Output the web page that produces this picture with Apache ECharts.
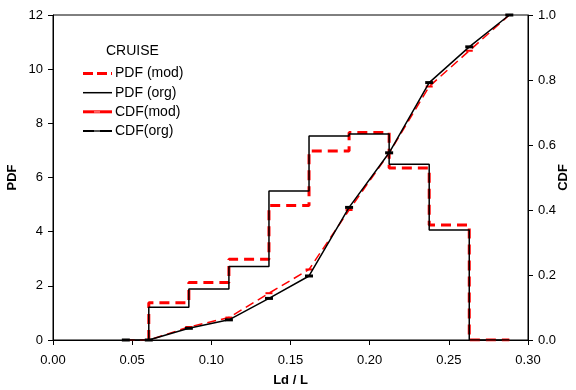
<!DOCTYPE html>
<html><head><meta charset="utf-8">
<script src="https://cdn.jsdelivr.net/npm/echarts@6/dist/echarts.min.js"></script>
<style>html,body{margin:0;padding:0;background:#fff}#c{width:576px;height:390px}</style>
</head><body><div id="c"></div>
<script>
var binEdges = [0.0605, 0.0858, 0.1111, 0.1364, 0.1617, 0.1870, 0.2123, 0.2376, 0.2629, 0.2882];
var pdfMod = [1.38, 2.12, 2.98, 4.97, 6.98, 7.66, 6.35, 4.25, 0];
var pdfOrg = [1.21, 1.88, 2.71, 5.50, 7.53, 7.61, 6.49, 4.06, 0];
var cdfX   = [0.046, 0.0605, 0.0858, 0.1111, 0.1364, 0.1617, 0.1870, 0.2123, 0.2376, 0.2629, 0.2882];
var cdfMod = [0, 0, 0.040, 0.069, 0.144, 0.217, 0.400, 0.575, 0.780, 0.890, 1.0];
var cdfOrg = [0, 0, 0.036, 0.062, 0.128, 0.197, 0.408, 0.576, 0.792, 0.902, 1.0];
var seriesNames = ['PDF (mod)', 'PDF (org)', 'CDF(mod)', 'CDF(org)'];
var legendTitle = 'CRUISE';

function stepData(vals){
  var d = [[binEdges[0], 0]];
  for (var i = 0; i < vals.length; i++) d.push([binEdges[i], vals[i]]);
  d.push([binEdges[binEdges.length-1], vals[vals.length-1]]);
  return d;
}
function pairs(xs, ys){ return xs.map(function(x,i){return [x, ys[i]];}); }

var font = 'Liberation Sans, Arial, sans-serif';

// legend drawn as graphic (lines + real text)
var legStyles = [
  {stroke: '#ff0000', lineWidth: 3, lineDash: [10, 4], marker: false},
  {stroke: '#000000', lineWidth: 1.5, lineDash: null, marker: false},
  {stroke: '#ff0000', lineWidth: 3, lineDash: null, marker: true},
  {stroke: '#000000', lineWidth: 2, lineDash: null, marker: true}
];
var legRowY = [73.5, 92.7, 111.8, 131];
var legendGraphics = [{type: 'text', x: 106, y: 51, style: {text: legendTitle, font: '14px ' + font, fill: '#000', textVerticalAlign: 'middle'}}];
seriesNames.forEach(function(n, i){
  var s = legStyles[i];
  legendGraphics.push({type: 'line', shape: {x1: 83, y1: legRowY[i], x2: 112, y2: legRowY[i]},
    style: {stroke: s.stroke, lineWidth: s.lineWidth, lineDash: s.lineDash}});
  if (s.marker) legendGraphics.push({type: 'rect', shape: {x: 94, y: legRowY[i] - 1, width: 6, height: 2},
    style: {fill: i === 3 ? '#555' : '#ff6666'}});
  legendGraphics.push({type: 'text', x: 115, y: legRowY[i], style: {text: n, font: '14px ' + font, fill: '#000', textVerticalAlign: 'middle'}});
});

var chart = echarts.init(document.getElementById('c'));
chart.setOption({
  animation: false,
  textStyle: {fontFamily: font},
  graphic: legendGraphics,
  grid: {left: 53, right: 48, top: 15, bottom: 50, show: true, borderColor: '#000', borderWidth: 1, outerBoundsMode: 'none', containLabel: false},
  xAxis: {
    type: 'value', min: 0, max: 0.3, interval: 0.05,
    name: 'Ld / L', nameLocation: 'middle', nameGap: 34,
    nameTextStyle: {fontWeight: 'bold', fontSize: 13, color: '#000'},
    axisLine: {lineStyle: {color: '#000'}},
    axisTick: {inside: false, length: 5, lineStyle: {color: '#000'}},
    axisLabel: {color: '#000', fontSize: 13, margin: 14, formatter: function(v){return v.toFixed(2);}},
    splitLine: {show: false}
  },
  yAxis: [{
    type: 'value', min: 0, max: 12, interval: 2,
    name: 'PDF', nameLocation: 'middle', nameGap: 34, nameRotate: 90, nameMoveOverlap: false,
    nameTextStyle: {fontWeight: 'bold', fontSize: 13, color: '#000'},
    axisLine: {show: true, lineStyle: {color: '#000'}},
    axisTick: {show: true, length: 5, lineStyle: {color: '#000'}},
    axisLabel: {color: '#000', fontSize: 13, margin: 10},
    splitLine: {show: false}
  }, {
    type: 'value', min: 0, max: 1, interval: 0.2, position: 'right',
    name: 'CDF', nameLocation: 'middle', nameGap: 29, nameRotate: 90, nameMoveOverlap: false,
    nameTextStyle: {fontWeight: 'bold', fontSize: 13, color: '#000'},
    axisLine: {show: true, lineStyle: {color: '#000'}},
    axisTick: {show: true, length: 5, lineStyle: {color: '#000'}},
    axisLabel: {color: '#000', fontSize: 13, margin: 10, formatter: function(v){return v.toFixed(1);}},
    splitLine: {show: false}
  }],
  series: [
    {name: seriesNames[0], type: 'line', yAxisIndex: 0, step: 'end', data: stepData(pdfMod), showSymbol: false, symbol: 'none',
     lineStyle: {color: '#ff0000', width: 3, type: [10, 6]}, itemStyle: {color: '#ff0000'}, z: 2},
    {name: seriesNames[1], type: 'line', yAxisIndex: 0, step: 'end', data: stepData(pdfOrg), showSymbol: false, symbol: 'none',
     lineStyle: {color: '#000', width: 1.5}, itemStyle: {color: '#000'}, z: 3},
    {name: seriesNames[2], type: 'line', yAxisIndex: 1, data: pairs(cdfX, cdfMod), symbol: 'rect', symbolSize: [7, 2],
     lineStyle: {color: '#ff0000', width: 1.5, type: [9, 5]}, itemStyle: {color: '#ff0000'}, z: 4},
    {name: seriesNames[3], type: 'line', yAxisIndex: 1, data: pairs(cdfX, cdfOrg), symbol: 'rect', symbolSize: [8, 3],
     lineStyle: {color: '#000', width: 1.5}, itemStyle: {color: '#000'}, z: 5}
  ]
});
</script></body></html>
